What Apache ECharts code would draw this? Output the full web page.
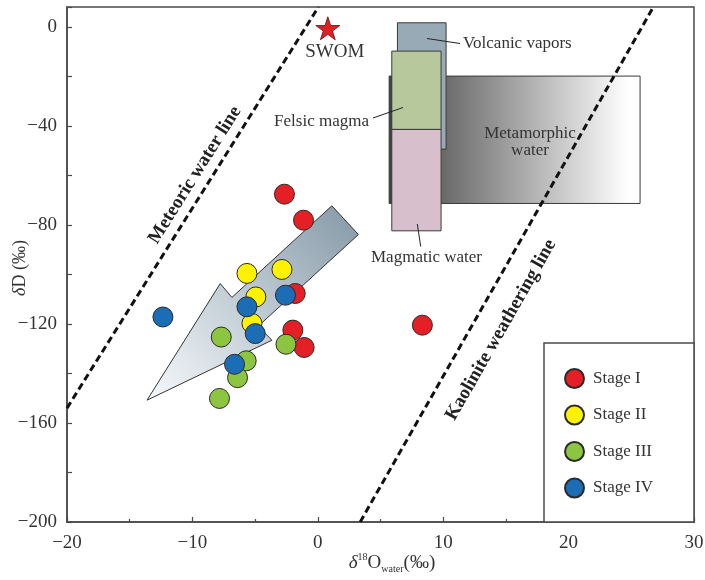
<!DOCTYPE html>
<html>
<head>
<meta charset="utf-8">
<script src="https://cdn.jsdelivr.net/npm/echarts@6/dist/echarts.min.js"></script>
<style>
html,body{margin:0;padding:0;background:#fff;}
#main{width:705px;height:580px;}
</style>
</head>
<body>
<div id="main"></div>
<script>
// ---- data ----
const stageNames = ['Stage I', 'Stage II', 'Stage III', 'Stage IV'];
const stage1X = [-2.66, -1.14, -1.80, -1.99, -1.09, 8.34];
const stage1Y = [-67.6, -78.1, -107.7, -122.5, -129.5, -120.5];
const stage2X = [-5.65, -2.86, -4.94, -5.25];
const stage2Y = [-99.6, -98.0, -109.1, -119.8];
const stage3X = [-7.70, -2.54, -5.71, -6.40, -7.84];
const stage3Y = [-125.3, -128.2, -134.9, -141.7, -150.1];
const stage4X = [-12.35, -5.65, -2.58, -4.99, -6.64];
const stage4Y = [-117.2, -113.1, -108.4, -123.9, -136.3];

const swomX = [0.8];
const swomY = [-0.6];

const meteoricX = [-20, 0.05];
const meteoricY = [-154, 8];
const kaoliniteX = [3.38, 26.76];
const kaoliniteY = [-200, 8];

// source fields: left, right, top, bottom (data units)
const boxNames = ['Metamorphic water', 'Volcanic vapors', 'Felsic magma', 'Magmatic water'];
const boxLeft = [5.69, 6.35, 5.90, 5.90];
const boxRight = [25.70, 10.23, 9.83, 9.83];
const boxTop = [-19.9, 1.62, -9.82, -41.45];
const boxBottom = [-71.35, -49.4, -41.45, -82.4];

// trend arrow outline
const arrowX = [-13.62, -7.78, -6.85, 1.12, 3.24, -4.75, -3.66];
const arrowY = [-150.8, -103.7, -109.3, -72.3, -83.9, -120.9, -126.6];

const xTicks = [-20, -10, 0, 10, 20, 30];
const yTicks = [-200, -160, -120, -80, -40, 0];

// ---- chart ----
const SERIF = '"Liberation Serif", "DejaVu Serif", serif';
const stageColors = ['#e41f26', '#fff200', '#8cc540', '#1b6db5'];
const boxFills = [
  new echarts.graphic.LinearGradient(0, 0, 1, 0, [
    {offset: 0, color: '#3e3e3e'}, {offset: 0.95, color: '#ffffff'}, {offset: 1, color: '#ffffff'}]),
  '#98aab6', '#b7c99c', '#d8bfcc'
];
const minus = v => String(v).replace('-', '\u2212');
const zip = (a, b) => a.map((v, i) => [v, b[i]]);

const chart = echarts.init(document.getElementById('main'), null, {renderer: 'canvas'});

const stageX = [stage1X, stage2X, stage3X, stage4X];
const stageY = [stage1Y, stage2Y, stage3Y, stage4Y];

const scatterSeries = stageNames.map((name, i) => ({
  name: name,
  type: 'scatter',
  z: 5,
  symbol: 'circle',
  symbolSize: 20,
  itemStyle: {color: stageColors[i], borderColor: '#2a2a2a', borderWidth: 1, opacity: 1},
  data: zip(stageX[i], stageY[i])
}));

const option = {
  animation: false,
  backgroundColor: '#fff',
  grid: {left: 67, right: 11, top: 7, bottom: 58, show: true, borderColor: '#4a4a4a', borderWidth: 1.5, containLabel: false, outerBoundsMode: 'none'},
  xAxis: {
    type: 'value', min: -20, max: 30, interval: 10,
    axisLine: {show: true, onZero: false, lineStyle: {color: '#4a4a4a', width: 1.5}},
    axisTick: {show: true, inside: true, length: 5, lineStyle: {color: '#4a4a4a', width: 1.2}},
    minorTick: {show: true, splitNumber: 2, length: 3, lineStyle: {color: '#4a4a4a', width: 1.2}},
    splitLine: {show: false},
    axisLabel: {margin: 12, fontFamily: SERIF, fontSize: 19, color: '#333',
      formatter: v => xTicks.indexOf(v) >= 0 ? minus(v) : ''}
  },
  yAxis: {
    type: 'value', min: -200, max: 8, interval: 20,
    axisLine: {show: true, onZero: false, lineStyle: {color: '#4a4a4a', width: 1.5}},
    axisTick: {show: true, inside: true, length: 5, lineStyle: {color: '#4a4a4a', width: 1.2}},
    splitLine: {show: false},
    axisLabel: {margin: 10, fontFamily: SERIF, fontSize: 19, color: '#333',
      formatter: v => yTicks.indexOf(v) >= 0 ? minus(v) : ''}
  },
  legend: {
    data: stageNames,
    orient: 'vertical', left: 564, top: 368, padding: 0,
    itemWidth: 19, itemHeight: 19, itemGap: 15.5,
    icon: 'circle',
    textStyle: {fontFamily: SERIF, fontSize: 17, color: '#333', padding: [0, 0, 0, 4]},
    z: 10
  },
  graphic: [
    {type: 'rect', z: 8, shape: {x: 544, y: 343, width: 150, height: 179},
      style: {fill: '#fff', stroke: '#4a4a4a', lineWidth: 1.5}},
    // annotation leader lines
    {type: 'line', z: 9, shape: {x1: 427, y1: 38.5, x2: 460, y2: 43.5}, style: {stroke: '#222', lineWidth: 1}},
    {type: 'line', z: 9, shape: {x1: 373, y1: 118, x2: 403, y2: 107.5}, style: {stroke: '#222', lineWidth: 1}},
    {type: 'line', z: 9, shape: {x1: 417.3, y1: 224, x2: 420.7, y2: 246.5}, style: {stroke: '#222', lineWidth: 1}},
    {type: 'text', z: 9, x: 463, y: 44, style: {text: 'Volcanic vapors', fontFamily: SERIF, fontSize: 17, fill: '#333', align: 'left', verticalAlign: 'middle'}},
    {type: 'text', z: 9, x: 369, y: 122, style: {text: 'Felsic magma', fontFamily: SERIF, fontSize: 17, fill: '#333', align: 'right', verticalAlign: 'middle'}},
    {type: 'text', z: 9, x: 371, y: 258, style: {text: 'Magmatic water', fontFamily: SERIF, fontSize: 17, fill: '#333', align: 'left', verticalAlign: 'middle'}},
    {type: 'text', z: 9, x: 530, y: 142, style: {text: 'Metamorphic\nwater', lineHeight: 17.5, fontFamily: SERIF, fontSize: 17, fill: '#333', align: 'center', verticalAlign: 'middle'}},
    {type: 'text', z: 9, x: 195, y: 175, rotation: 57.9 * Math.PI / 180,
      style: {text: 'Meteoric water line', fontFamily: SERIF, fontWeight: 'bold', fontSize: 19, fill: '#222', align: 'center', verticalAlign: 'middle'}},
    {type: 'text', z: 9, x: 501, y: 330, rotation: 60.3 * Math.PI / 180,
      style: {text: 'Kaolinite weathering line', fontFamily: SERIF, fontWeight: 'bold', fontSize: 19, fill: '#222', align: 'center', verticalAlign: 'middle'}},
    // axis titles
    {type: 'text', z: 9, x: 20, y: 268, rotation: Math.PI / 2,
      style: {text: '{i|δ}{n|D (‰)}', align: 'center', verticalAlign: 'middle',
        rich: {i: {fontFamily: SERIF, fontStyle: 'italic', fontSize: 18, fill: '#333'}, n: {fontFamily: SERIF, fontSize: 18, fill: '#333'}}}},
    {type: 'text', z: 9, x: 392, y: 563,
      style: {text: '{i|δ}{s|18}{n|O}{b|water}{n|(‰)}', align: 'center', verticalAlign: 'middle',
        rich: {
          i: {fontFamily: SERIF, fontStyle: 'italic', fontSize: 19, fill: '#333', lineHeight: 22},
          n: {fontFamily: SERIF, fontSize: 19, fill: '#333', lineHeight: 22},
          s: {fontFamily: SERIF, fontSize: 10, fill: '#333', verticalAlign: 'top', lineHeight: 12},
          b: {fontFamily: SERIF, fontSize: 10, fill: '#333', verticalAlign: 'bottom', lineHeight: 12}
        }}}
  ],
  series: [
    {
      type: 'custom', name: 'sources', z: 1, silent: true,
      data: boxNames.map((n, i) => [boxLeft[i], boxTop[i], boxRight[i], boxBottom[i]]),
      renderItem: function (params, api) {
        const p0 = api.coord([api.value(0), api.value(1)]);
        const p1 = api.coord([api.value(2), api.value(3)]);
        return {
          type: 'rect',
          shape: {x: p0[0], y: p0[1], width: p1[0] - p0[0], height: p1[1] - p0[1]},
          style: {fill: boxFills[params.dataIndex], stroke: '#3a3a3a', lineWidth: 1}
        };
      }
    },
    {
      type: 'custom', name: 'arrow', z: 2, silent: true,
      data: [[arrowX[0], arrowY[0]]],
      renderItem: function (params, api) {
        const pts = arrowX.map((x, i) => api.coord([x, arrowY[i]]));
        return {
          type: 'polygon',
          shape: {points: pts},
          style: {
            fill: new echarts.graphic.LinearGradient(1, 0, 0, 1, [
              {offset: 0, color: '#8598a6'}, {offset: 0.45, color: '#b9c6cf'}, {offset: 1, color: '#f7f9fb'}]),
            stroke: '#333', lineWidth: 1
          }
        };
      }
    },
    {
      type: 'line', name: 'Meteoric water line', z: 3, symbol: 'none', silent: true,
      lineStyle: {color: '#111', width: 3, type: [7, 4]},
      data: zip(meteoricX, meteoricY)
    },
    {
      type: 'line', name: 'Kaolinite weathering line', z: 3, symbol: 'none', silent: true,
      lineStyle: {color: '#111', width: 3, type: [7, 4]},
      data: zip(kaoliniteX, kaoliniteY)
    },
    ...scatterSeries,
    {
      type: 'scatter', name: 'SWOM', z: 5,
      symbol: 'path://M50,0 L61.2,34.5 L97.6,34.5 L68.2,55.9 L79.4,90.5 L50,69.1 L20.6,90.5 L31.8,55.9 L2.4,34.5 L38.8,34.5 Z',
      symbolSize: [24, 23],
      itemStyle: {color: '#e11f26', borderColor: '#5a1010', borderWidth: 0.8, opacity: 1},
      label: {show: true, position: 'bottom', distance: 2, offset: [7, 0], formatter: 'SWOM',
        fontFamily: SERIF, fontSize: 19, color: '#333', opacity: 1},
      data: zip(swomX, swomY)
    }
  ]
};
chart.setOption(option);
</script>
</body>
</html>
